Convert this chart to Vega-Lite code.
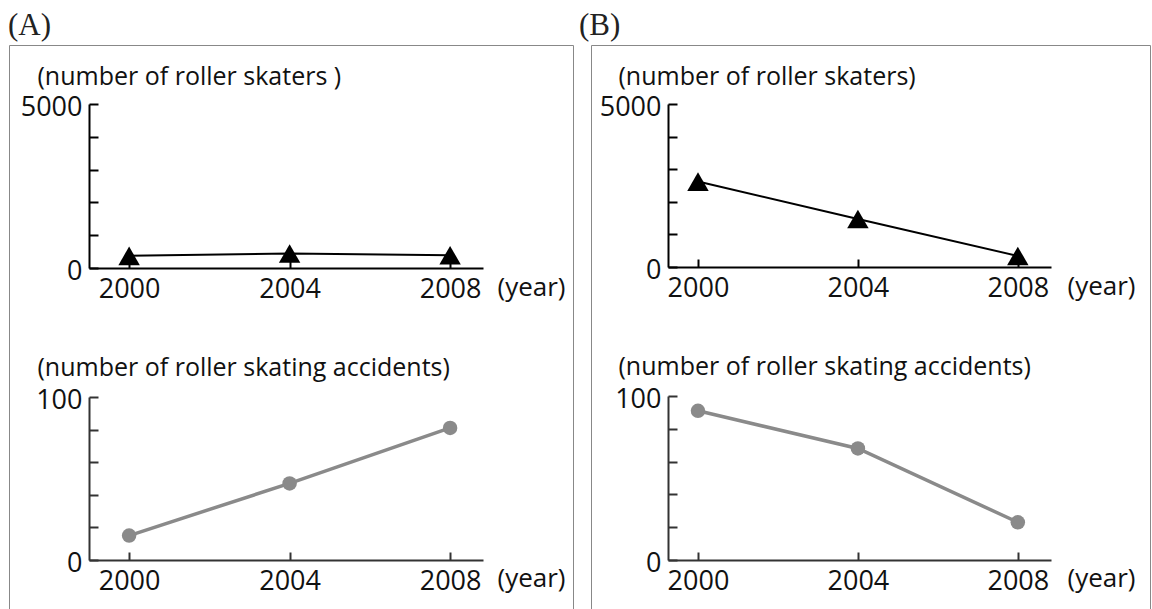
{
  "$schema": "https://vega.github.io/schema/vega-lite/v6.json",
  "padding": {"left": 7, "top": 9, "right": 0, "bottom": 0},
  "autosize": {"type": "pad"},
  "background": "white",
  "datasets": {
    "A": [
      {"year": 2000, "skaters": 370, "accidents": 15},
      {"year": 2004, "skaters": 440, "accidents": 47},
      {"year": 2008, "skaters": 390, "accidents": 81}
    ],
    "B": [
      {"year": 2000, "skaters": 2620, "accidents": 91},
      {"year": 2004, "skaters": 1470, "accidents": 68},
      {"year": 2008, "skaters": 340, "accidents": 23}
    ]
  },
  "spacing": 4,
  "hconcat": [
    {
      "width": 564,
      "height": 600,
      "data": {"name": "A"},
      "title": {"text": "(A)", "dx": -1},
      "layer": [
        {
          "encoding": {
            "x": {"field": "year", "type": "quantitative",
              "scale": {"domain": [1999.0, 2008.82], "range": [80, 474], "nice": false, "zero": false},
              "axis": {"orient": "bottom", "offset": -377, "values": [2000, 2004, 2008], "format": "d",
                "title": "(year)", "titleX": 488, "titleY": 19, "domainColor": "#000", "tickColor": "#000"}},
            "y": {"field": "skaters", "type": "quantitative",
              "scale": {"domain": [0, 5000], "range": [223, 59], "nice": false},
              "axis": {"orient": "left", "offset": -80, "values": [0, 1000, 2000, 3000, 4000, 5000], "format": "d",
                "labelExpr": "datum.value == 0 || datum.value == 5000 ? datum.label : ''",
                "title": "(number of roller skaters )", "titleX": -52, "titleY": 31, "domainColor": "#000", "tickColor": "#000"}}
          },
          "layer": [
            {"mark": {"type": "line", "color": "#000", "strokeWidth": 2}},
            {"mark": {"type": "point", "shape": "triangle-up", "filled": true, "color": "#000", "opacity": 1, "size": 460}}
          ]
        },
        {
          "encoding": {
            "x": {"field": "year", "type": "quantitative",
              "scale": {"domain": [1999.0, 2008.82], "range": [80, 474], "nice": false, "zero": false},
              "axis": {"orient": "bottom", "offset": -85, "values": [2000, 2004, 2008], "format": "d",
                "title": "(year)", "titleX": 488, "titleY": 18, "domainColor": "#333", "tickColor": "#333"}},
            "y": {"field": "accidents", "type": "quantitative",
              "scale": {"domain": [0, 100], "range": [515, 352], "nice": false},
              "axis": {"orient": "left", "offset": -80, "values": [0, 20, 40, 60, 80, 100], "format": "d",
                "labelExpr": "datum.value == 0 || datum.value == 100 ? datum.label : ''",
                "title": "(number of roller skating accidents)", "titleX": -52, "titleY": 322, "domainColor": "#333", "tickColor": "#333"}}
          },
          "layer": [
            {"mark": {"type": "line", "color": "#8a8a8a", "strokeWidth": 3.5}},
            {"mark": {"type": "point", "shape": "circle", "filled": true, "color": "#8a8a8a", "opacity": 1, "size": 210}}
          ]
        }
      ],
      "resolve": {"scale": {"x": "independent", "y": "independent"}, "axis": {"x": "independent", "y": "independent"}}
    },
    {
      "width": 559,
      "height": 600,
      "data": {"name": "B"},
      "title": {"text": "(B)", "dx": -12},
      "layer": [
        {
          "encoding": {
            "x": {"field": "year", "type": "quantitative",
              "scale": {"domain": [1999.25, 2008.83], "range": [77, 460], "nice": false, "zero": false},
              "axis": {"orient": "bottom", "offset": -378, "values": [2000, 2004, 2008], "format": "d",
                "title": "(year)", "titleX": 476, "titleY": 19, "domainColor": "#000", "tickColor": "#000"}},
            "y": {"field": "skaters", "type": "quantitative",
              "scale": {"domain": [0, 5000], "range": [222, 59], "nice": false},
              "axis": {"orient": "left", "offset": -77, "values": [0, 1000, 2000, 3000, 4000, 5000], "format": "d",
                "labelExpr": "datum.value == 0 || datum.value == 5000 ? datum.label : ''",
                "title": "(number of roller skaters)", "titleX": -50, "titleY": 31, "domainColor": "#000", "tickColor": "#000"}}
          },
          "layer": [
            {"mark": {"type": "line", "color": "#000", "strokeWidth": 2}},
            {"mark": {"type": "point", "shape": "triangle-up", "filled": true, "color": "#000", "opacity": 1, "size": 460}}
          ]
        },
        {
          "encoding": {
            "x": {"field": "year", "type": "quantitative",
              "scale": {"domain": [1999.25, 2008.83], "range": [77, 460], "nice": false, "zero": false},
              "axis": {"orient": "bottom", "offset": -85, "values": [2000, 2004, 2008], "format": "d",
                "title": "(year)", "titleX": 476, "titleY": 18, "domainColor": "#333", "tickColor": "#333"}},
            "y": {"field": "accidents", "type": "quantitative",
              "scale": {"domain": [0, 100], "range": [515, 351], "nice": false},
              "axis": {"orient": "left", "offset": -77, "values": [0, 20, 40, 60, 80, 100], "format": "d",
                "labelExpr": "datum.value == 0 || datum.value == 100 ? datum.label : ''",
                "title": "(number of roller skating accidents)", "titleX": -50, "titleY": 321, "domainColor": "#333", "tickColor": "#333"}}
          },
          "layer": [
            {"mark": {"type": "line", "color": "#8a8a8a", "strokeWidth": 3.5}},
            {"mark": {"type": "point", "shape": "circle", "filled": true, "color": "#8a8a8a", "opacity": 1, "size": 210}}
          ]
        }
      ],
      "resolve": {"scale": {"x": "independent", "y": "independent"}, "axis": {"x": "independent", "y": "independent"}}
    }
  ],
  "config": {
    "view": {"stroke": "#888", "strokeWidth": 1},
    "title": {"font": "Liberation Serif", "fontSize": 31, "fontWeight": "normal", "anchor": "start", "offset": 3, "color": "#222", "frame": "group"},
    "axis": {
      "grid": false,
      "domainWidth": 2,
      "tickWidth": 2,
      "tickSize": -9,
      "labelPadding": 16,
      "labelFont": "Open Sans",
      "labelFontSize": 27,
      "labelColor": "#111",
      "titleFont": "Open Sans",
      "titleFontSize": 25,
      "titleFontWeight": "normal",
      "titleColor": "#111",
      "titleAngle": 0,
      "titleAlign": "left",
      "titleBaseline": "middle",
      "labelFlush": false,
      "labelOverlap": false
    },
    "axisX": {"tickSize": -8, "labelPadding": 16, "titleFontSize": 26, "labelBaseline": "top"},
    "axisY": {"labelBaseline": "middle", "labelOffset": 3}
  }
}
